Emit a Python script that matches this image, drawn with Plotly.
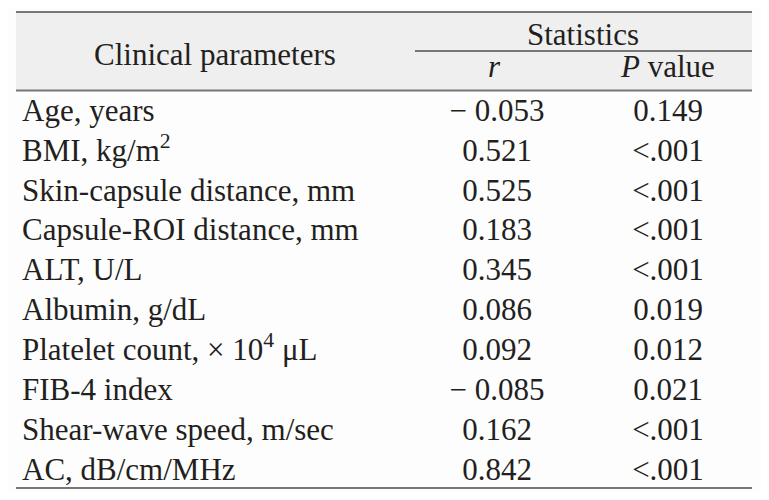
import plotly.graph_objects as go

# table contents
parameters = [
    "Age, years",
    "BMI, kg/m<sup>2</sup>",
    "Skin-capsule distance, mm",
    "Capsule-ROI distance, mm",
    "ALT, U/L",
    "Albumin, g/dL",
    "Platelet count, \u00d7 10<sup>4</sup> \u03bcL",
    "FIB-4 index",
    "Shear-wave speed, m/sec",
    "AC, dB/cm/MHz",
]
r_values = ["\u2212 0.053", "0.521", "0.525", "0.183", "0.345",
            "0.086", "0.092", "\u2212 0.085", "0.162", "0.842"]
p_values = ["0.149", "<.001", "<.001", "<.001", "<.001",
            "0.019", "0.012", "0.021", "<.001", "<.001"]

W, H = 769, 500
PAD = 8  # default body margin of the html page
FONT = "Liberation Serif"
TXT = "#231f20"
LINE = "#777777"
SIZE = 31

row0, row_h = 113, 39.9
ys = [row0 + i * row_h for i in range(len(parameters))]
x_left, x_r, x_p = 22, 497, 668

fig = go.Figure()
fig.add_trace(go.Scatter(x=[x_left] * len(parameters), y=ys, text=parameters,
                         mode="text", textposition="middle right"))
fig.add_trace(go.Scatter(x=[x_r] * len(r_values), y=ys, text=r_values,
                         mode="text", textposition="middle center"))
fig.add_trace(go.Scatter(x=[x_p] * len(p_values), y=ys, text=p_values,
                         mode="text", textposition="middle center"))
fig.update_traces(textfont=dict(family=FONT, size=SIZE, color=TXT),
                  hoverinfo="skip", showlegend=False)

# header text
head = [("Clinical parameters", 215, 54), ("Statistics", 583, 34),
        ("<i>r</i>", 494, 66), ("<i>P</i> value", 667, 66)]
for t, x, y in head:
    fig.add_annotation(x=x, y=y, text=t, showarrow=False,
                       font=dict(family=FONT, size=SIZE, color=TXT),
                       xanchor="center", yanchor="middle")

# header band and rules
fig.add_shape(type="rect", x0=16, x1=752, y0=12, y1=91,
              fillcolor="#efefef", line_width=0, layer="below")
for x0, y in [(16, 12), (415, 51), (16, 90.5), (16, 488)]:
    fig.add_shape(type="line", x0=x0, x1=752, y0=y, y1=y,
                  line=dict(color=LINE, width=2))

pw, ph = W - 2 * PAD, H - 2 * PAD
fig.update_layout(
    width=pw, height=ph, margin=dict(l=0, r=0, t=0, b=0),
    paper_bgcolor="#fdfdfd", plot_bgcolor="#fdfdfd",
    xaxis=dict(range=[PAD, PAD + pw], visible=False, fixedrange=True),
    yaxis=dict(range=[PAD + ph, PAD], visible=False, fixedrange=True),
)
fig.write_html("out.html", config={"displayModeBar": False})
